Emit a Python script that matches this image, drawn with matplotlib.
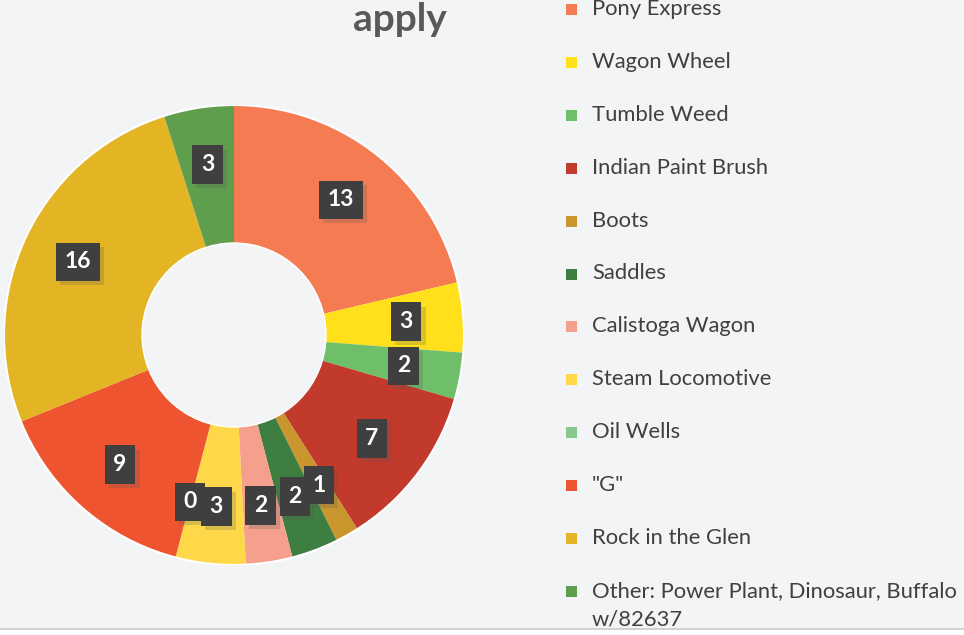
import numpy as np
import matplotlib
matplotlib.use("Agg")
import matplotlib.pyplot as plt
from matplotlib.patches import Rectangle, Circle
import matplotlib.patheffects as pe

plt.rcParams['font.family'] = ['Lato', 'DejaVu Sans']

categories = ["Pony Express", "Wagon Wheel", "Tumble Weed", "Indian Paint Brush",
              "Boots", "Saddles", "Calistoga Wagon", "Steam Locomotive",
              "Oil Wells", "\"G\"", "Rock in the Glen",
              "Other: Power Plant, Dinosaur, Buffalo\nw/82637"]
values = [13, 3, 2, 7, 1, 2, 2, 3, 0, 9, 16, 3]
colors = ["#F47B52", "#FFE01A", "#6FBF6A", "#C23A2C", "#C9962E", "#3F7E41",
          "#F5A08C", "#FFD84A", "#86C98A", "#EE5430", "#E3B424", "#5F9E4D"]

W, H = 964, 635
fig = plt.figure(figsize=(W / 100, H / 100), dpi=100)
fig.patch.set_facecolor("#F2F4F6")

# white strip and divider at the bottom
fig.add_artist(Rectangle((0, 0), 1, 1 - 629 / H, transform=fig.transFigure,
                         facecolor="white", edgecolor="none", zorder=0))
fig.add_artist(plt.Line2D([0, 1], [1 - 629 / H] * 2, transform=fig.transFigure,
                          color="#C8CACC", lw=1.2, zorder=1))

# donut axes: centre (234, 335) px, outer radius 230 px
cx, cy, R = 234, 335, 230
ax = fig.add_axes([(cx - R) / W, (H - cy - R) / H, 2 * R / W, 2 * R / H])

inner = 0.40
wedges, _ = ax.pie(values, colors=colors, startangle=90, counterclock=False,
                   radius=1.0, wedgeprops=dict(width=1 - inner, edgecolor="none"))
ax.set_xlim(-1, 1)
ax.set_ylim(-1, 1)
ax.set_aspect("equal")
ax.axis("off")
ax.add_patch(Circle((0, 0), 1.0, fill=False, edgecolor="white", lw=1.5, zorder=3))
ax.add_patch(Circle((0, 0), inner, fill=False, edgecolor="white", lw=1.0, zorder=3))

# value labels in dark boxes
total = float(sum(values))
start = 90.0
label_r = 0.75
n = len(values)
for i, v in enumerate(values):
    sweep = 360.0 * v / total
    mid = np.deg2rad(start - sweep / 2)
    start -= sweep
    x, y = label_r * np.cos(mid), label_r * np.sin(mid)
    z = 10 + (n - i)
    ax.text(x, y, str(v), ha="center", va="center", color="white",
            fontsize=16.5, fontweight="bold", zorder=z,
            bbox=dict(boxstyle="square,pad=0.38", fc="#3F3F3F", ec="none",
                      path_effects=[pe.SimplePatchShadow(offset=(3, -3), alpha=0.22,
                                                         shadow_rgbFace="#555555"),
                                    pe.Normal()]))

# title (upper part of a longer heading)
fig.text(400 / W, 1 - 31 / H, "apply", ha="center", va="baseline",
         fontsize=28, fontweight="bold", color="#595959")

# legend
x_box, x_txt = 566, 592
row0, step = 9, 52.9
for i, (lab, c) in enumerate(zip(categories, colors)):
    yc = row0 + step * i
    fig.add_artist(Rectangle((x_box / W, 1 - (yc + 6) / H), 11 / W, 11 / H,
                             transform=fig.transFigure, facecolor=c,
                             edgecolor="none"))
    lines = lab.split("\n")
    for k, line in enumerate(lines):
        fig.text(x_txt / W, 1 - (yc + 29 * k) / H, line, ha="left",
                 va="center", fontsize=15.8, color="#404040")

fig.savefig("out.png", dpi=100, facecolor=fig.get_facecolor())
